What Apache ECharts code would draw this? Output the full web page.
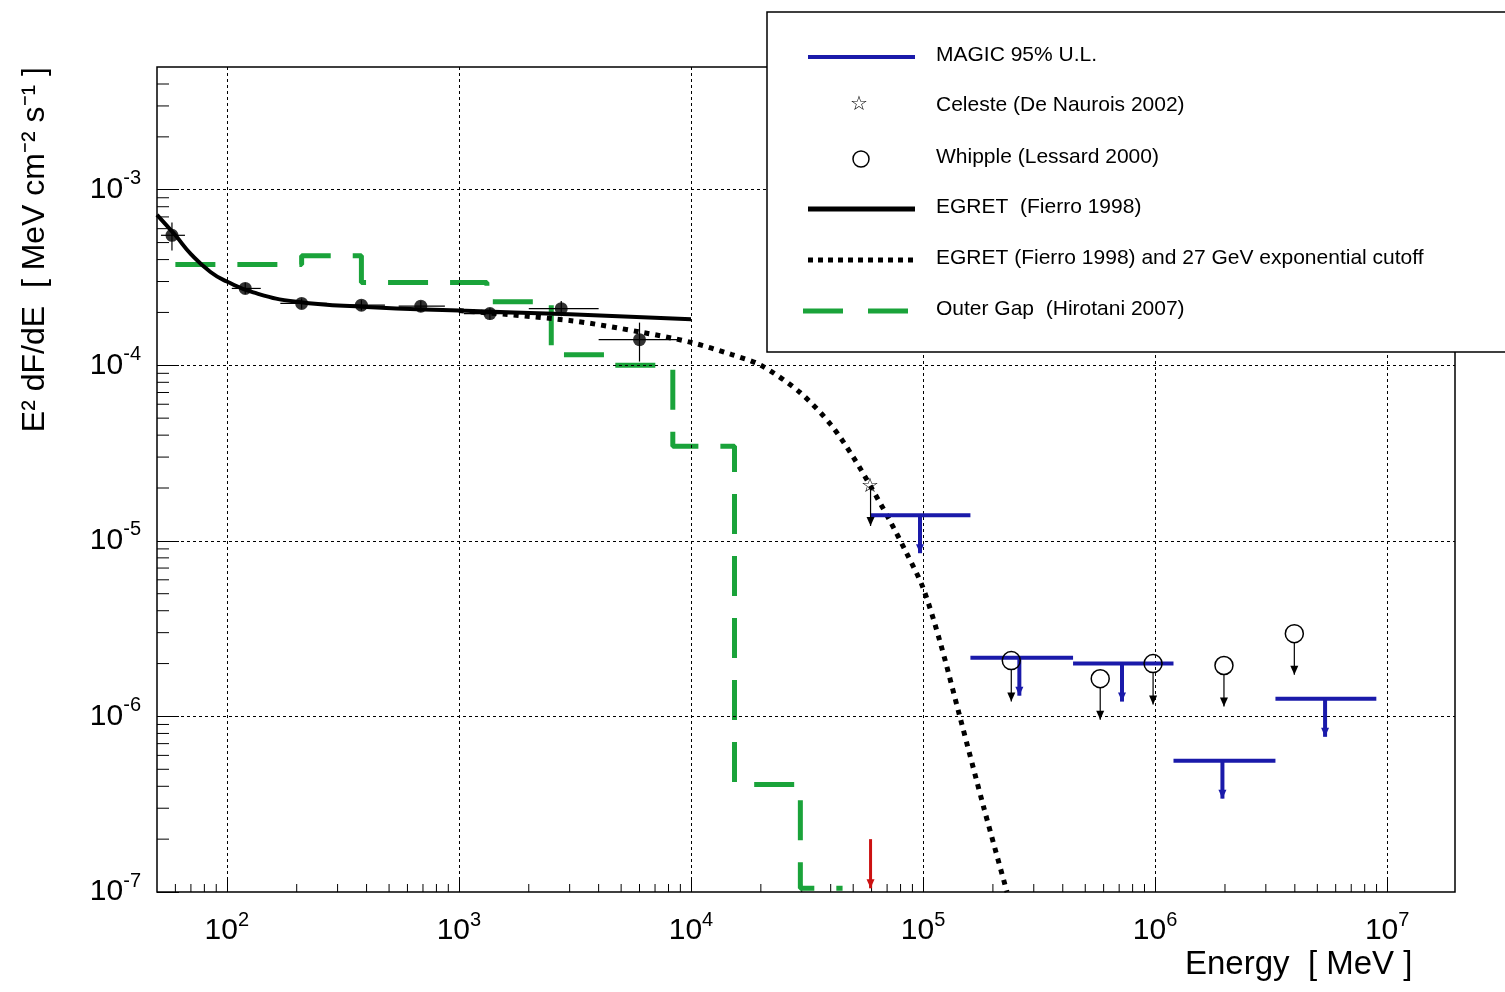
<!DOCTYPE html>
<html><head><meta charset="utf-8">
<script src="https://cdn.jsdelivr.net/npm/echarts@6/dist/echarts.min.js"></script>
<style>html,body{margin:0;padding:0;background:#fff}#c{width:1505px;height:992px}</style>
</head><body><div id="c"></div>
<script>
// ---- data (real units: MeV, MeV cm^-2 s^-1) ----
const egretPts = [[58,5.5e-4],[120,2.74e-4],[210,2.25e-4],[380,2.2e-4],[685,2.17e-4],[1360,1.97e-4],[2760,2.1e-4],[6000,1.4e-4]];
// error bars: [xlo, xhi, ylo, yhi]
const egretErr = [[52,66,4.5e-4,6.5e-4],[105,140,2.55e-4,2.95e-4],[170,270,2.1e-4,2.4e-4],[300,480,2.05e-4,2.35e-4],[550,870,2.02e-4,2.32e-4],[1050,1800,1.82e-4,2.12e-4],[2000,4000,1.9e-4,2.32e-4],[4000,9000,1.05e-4,1.75e-4]];
const egretCurve = [[50,7.2e-4],[60,5.5e-4],[70,4.3e-4],[85,3.4e-4],[100,3.0e-4],[130,2.6e-4],[200,2.3e-4],[400,2.15e-4],[1000,2.05e-4],[3000,1.95e-4],[10000,1.83e-4]];
const cutoffCurve = [[1000,2.05e-4],[3000,1.8e-4],[6000,1.55e-4],[10000,1.35e-4],[15000,1.15e-4],[20000,1.0e-4],[29500,7.0e-5],[40000,4.6e-5],[50000,3.0e-5],[60000,2.0e-5],[72000,1.3e-5],[85000,8.5e-6],[100000,5.4e-6],[118000,2.7e-6],[144000,1.0e-6],[183000,3.0e-7],[230000,1.0e-7]];
const outerGap = [[60,3.75e-4],[210,3.75e-4],[210,4.2e-4],[380,4.2e-4],[380,2.96e-4],[1320,2.96e-4],[1320,2.3e-4],[2500,2.3e-4],[2500,1.15e-4],[4480,1.15e-4],[4480,1.0e-4],[8350,1.0e-4],[8350,3.46e-5],[15400,3.46e-5],[15400,4.1e-7],[29600,4.1e-7],[29600,1.05e-7],[45000,1.05e-7]];
// MAGIC UL: [lo, hi, center, value]
const magicUL = [[59400,160000,97000,1.4e-5],[160000,443000,260000,2.16e-6],[443000,1200000,720000,2.0e-6],[1200000,3300000,1950000,5.6e-7],[3300000,8980000,5400000,1.26e-6]];
const whipple = [[240000,2.08e-6],[580000,1.64e-6],[980000,2.0e-6],[1980000,1.95e-6],[3980000,2.96e-6]];
const celeste = [[59400,2.0e-5]];
const redArrow = [[59400,2.0e-7,1.05e-7]];
const xTickExp = [2,3,4,5,6,7];
const yTickExp = [-7,-6,-5,-4,-3];

const L = Math.log10;
const lp = a => a.map(p => [L(p[0]), L(p[1])]);
const xMin = L(50), xMax = L(1.96e7), yMin = -7, yMax = L(5e-3);
function minors(lo, hi){
  const r=[]; for(let e=Math.floor(lo);e<=Math.ceil(hi);e++){for(let m=2;m<=9;m++){const v=e+L(m); if(v>lo&&v<hi) r.push(v);}}
  return r;
}
const fmt = v => '{b|10}{s|' + Math.round(v) + '}';
const rich = {b:{fontSize:30,fontFamily:'Liberation Sans',color:'#000'},s:{fontSize:20,fontFamily:'Liberation Sans',color:'#000',padding:[0,0,22,0]}};

function arrow(api, x, y, len, color, w){
  return [
    {type:'line',shape:{x1:x,y1:y,x2:x,y2:y+len},style:{stroke:color,lineWidth:w}},
    {type:'polygon',shape:{points:[[x-4,y+len-9],[x+4,y+len-9],[x,y+len]]},style:{fill:color}}
  ];
}
const F = 'Liberation Sans';
const OX = 767, OY = 12;
const legendEls = [
  {type:'rect',shape:{x:0,y:0,width:745,height:340},style:{fill:'#fff',stroke:'#000',lineWidth:1.5}},
  {type:'line',shape:{x1:41,y1:45,x2:148,y2:45},style:{stroke:'#1a1aaa',lineWidth:4}},
  {type:'text',x:169,y:33,style:{text:'MAGIC 95% U.L.',fontSize:21,fontFamily:F,fill:'#000'}},
  {type:'text',x:83,y:82,style:{text:'☆',fontSize:20,fill:'#000'}},
  {type:'text',x:169,y:83,style:{text:'Celeste (De Naurois 2002)',fontSize:21,fontFamily:F,fill:'#000'}},
  {type:'circle',shape:{cx:94,cy:147,r:8},style:{fill:'none',stroke:'#000',lineWidth:1.5}},
  {type:'text',x:169,y:135,style:{text:'Whipple (Lessard 2000)',fontSize:21,fontFamily:F,fill:'#000'}},
  {type:'line',shape:{x1:41,y1:197,x2:148,y2:197},style:{stroke:'#000',lineWidth:5}},
  {type:'text',x:169,y:185,style:{text:'EGRET  (Fierro 1998)',fontSize:21,fontFamily:F,fill:'#000'}},
  {type:'line',shape:{x1:41,y1:248,x2:148,y2:248},style:{stroke:'#000',lineWidth:5,lineDash:[5,5]}},
  {type:'text',x:169,y:236,style:{text:'EGRET (Fierro 1998) and 27 GeV exponential cutoff',fontSize:21,fontFamily:F,fill:'#000'}},
  {type:'line',shape:{x1:36,y1:299,x2:150,y2:299},style:{stroke:'#1aa33a',lineWidth:5,lineDash:[40,25]}},
  {type:'text',x:169,y:287,style:{text:'Outer Gap  (Hirotani 2007)',fontSize:21,fontFamily:F,fill:'#000'}}
].map(e=>Object.assign({}, e, {x:(e.x||0)+OX, y:(e.y||0)+OY, zlevel:2, z:100, silent:true}));

const chart = echarts.init(document.getElementById('c'));
chart.setOption({
  animation:false,
  grid:{left:157,right:50,top:67,bottom:100,show:true,borderColor:'#000',borderWidth:1.5},
  xAxis:{type:'value',min:xMin,max:xMax,
    axisLine:{show:false},splitLine:{show:false},
    axisTick:{show:true,inside:true,length:14,customValues:xTickExp,lineStyle:{color:'#000'}},
    axisLabel:{customValues:xTickExp,formatter:fmt,rich:rich,margin:18}
  },
  yAxis:{type:'value',min:yMin,max:yMax,
    axisLine:{show:false},splitLine:{show:false},
    axisTick:{show:true,inside:true,length:22,customValues:yTickExp,lineStyle:{color:'#000'}},
    axisLabel:{customValues:yTickExp,formatter:fmt,rich:rich,margin:16},
    name:'E² dF/dE  [ MeV cm⁻² s⁻¹ ]',nameLocation:'end',nameRotate:90,nameGap:0,
    nameTextStyle:{fontSize:32,fontFamily:F,color:'#000',align:'right',verticalAlign:'bottom',padding:[0,0,106,0]}
  },
  graphic:[
    {type:'text',left:1185,top:948,style:{text:'Energy  [ MeV ]',fontSize:33,fontFamily:F,fill:'#000'}}
  ].concat(legendEls),
  series:[
    {type:'line',data:[],silent:true,markLine:{silent:true,symbol:'none',label:{show:false},
      lineStyle:{color:'#000',type:[3,3],width:1},
      data:xTickExp.map(v=>({xAxis:v})).concat(yTickExp.filter(v=>v>yMin).map(v=>({yAxis:v})))}},
    {type:'custom',silent:true,data:minors(xMin,xMax).map(v=>[v]),renderItem:(p,api)=>{
      const c=api.coord([api.value(0),yMin]);return {type:'line',shape:{x1:c[0],y1:c[1],x2:c[0],y2:c[1]-8},style:{stroke:'#000',lineWidth:1}};}},
    {type:'custom',silent:true,data:minors(yMin,yMax).map(v=>[v]),renderItem:(p,api)=>{
      const c=api.coord([xMin,api.value(0)]);return {type:'line',shape:{x1:c[0],y1:c[1],x2:c[0]+12,y2:c[1]},style:{stroke:'#000',lineWidth:1}};}},
    {type:'line',data:lp(outerGap),symbol:'none',lineStyle:{color:'#1aa33a',width:5,type:[40,22]},z:3},
    {type:'line',data:lp(cutoffCurve),symbol:'none',smooth:0.3,lineStyle:{color:'#000',width:5,type:[5,6]},z:4},
    {type:'line',data:lp(egretCurve),symbol:'none',smooth:true,lineStyle:{color:'#000',width:4},z:5},
    {type:'custom',z:6,data:egretErr.map(e=>[L(e[0]),L(e[1]),L(e[2]),L(e[3])]),renderItem:(p,api)=>{
      const i=p.dataIndex, pt=egretPts[i];
      const a=api.coord([api.value(0),L(pt[1])]), b=api.coord([api.value(1),L(pt[1])]);
      const c=api.coord([L(pt[0]),api.value(2)]), d=api.coord([L(pt[0]),api.value(3)]);
      return {type:'group',children:[
        {type:'line',shape:{x1:a[0],y1:a[1],x2:b[0],y2:b[1]},style:{stroke:'#000',lineWidth:1.2}},
        {type:'line',shape:{x1:c[0],y1:c[1],x2:d[0],y2:d[1]},style:{stroke:'#000',lineWidth:1.2}}]};}},
    {type:'scatter',z:7,data:lp(egretPts),symbol:'circle',symbolSize:13,itemStyle:{color:'#000'}},
    {type:'custom',z:8,data:magicUL.map(m=>[L(m[0]),L(m[1]),L(m[2]),L(m[3])]),renderItem:(p,api)=>{
      const a=api.coord([api.value(0),api.value(3)]), b=api.coord([api.value(1),api.value(3)]), c=api.coord([api.value(2),api.value(3)]);
      return {type:'group',children:[{type:'line',shape:{x1:a[0],y1:a[1],x2:b[0],y2:b[1]},style:{stroke:'#1a1aaa',lineWidth:4}}].concat(arrow(api,c[0],c[1],38,'#1a1aaa',4))};}},
    {type:'custom',z:9,data:lp(whipple),renderItem:(p,api)=>{
      const c=api.coord([api.value(0),api.value(1)]);
      return {type:'group',children:[{type:'circle',shape:{cx:c[0],cy:c[1],r:9},style:{fill:'none',stroke:'#000',lineWidth:1.5}}].concat(arrow(api,c[0],c[1]+9,32,'#000',1.2))};}},
    {type:'custom',z:9,data:lp(celeste),renderItem:(p,api)=>{
      const c=api.coord([api.value(0),api.value(1)]);
      return {type:'group',children:[{type:'text',x:c[0]-10,y:c[1]-12,style:{text:'☆',fontSize:20,fill:'#000'}}].concat(arrow(api,c[0],c[1],38,'#000',1.2))};}},
    {type:'custom',z:9,data:redArrow.map(r=>[L(r[0]),L(r[1]),L(r[2])]),renderItem:(p,api)=>{
      const a=api.coord([api.value(0),api.value(1)]), b=api.coord([api.value(0),api.value(2)]);
      return {type:'group',children:arrow(api,a[0],a[1],b[1]-a[1],'#cc1111',3)};}}
  ]
});
</script></body></html>
